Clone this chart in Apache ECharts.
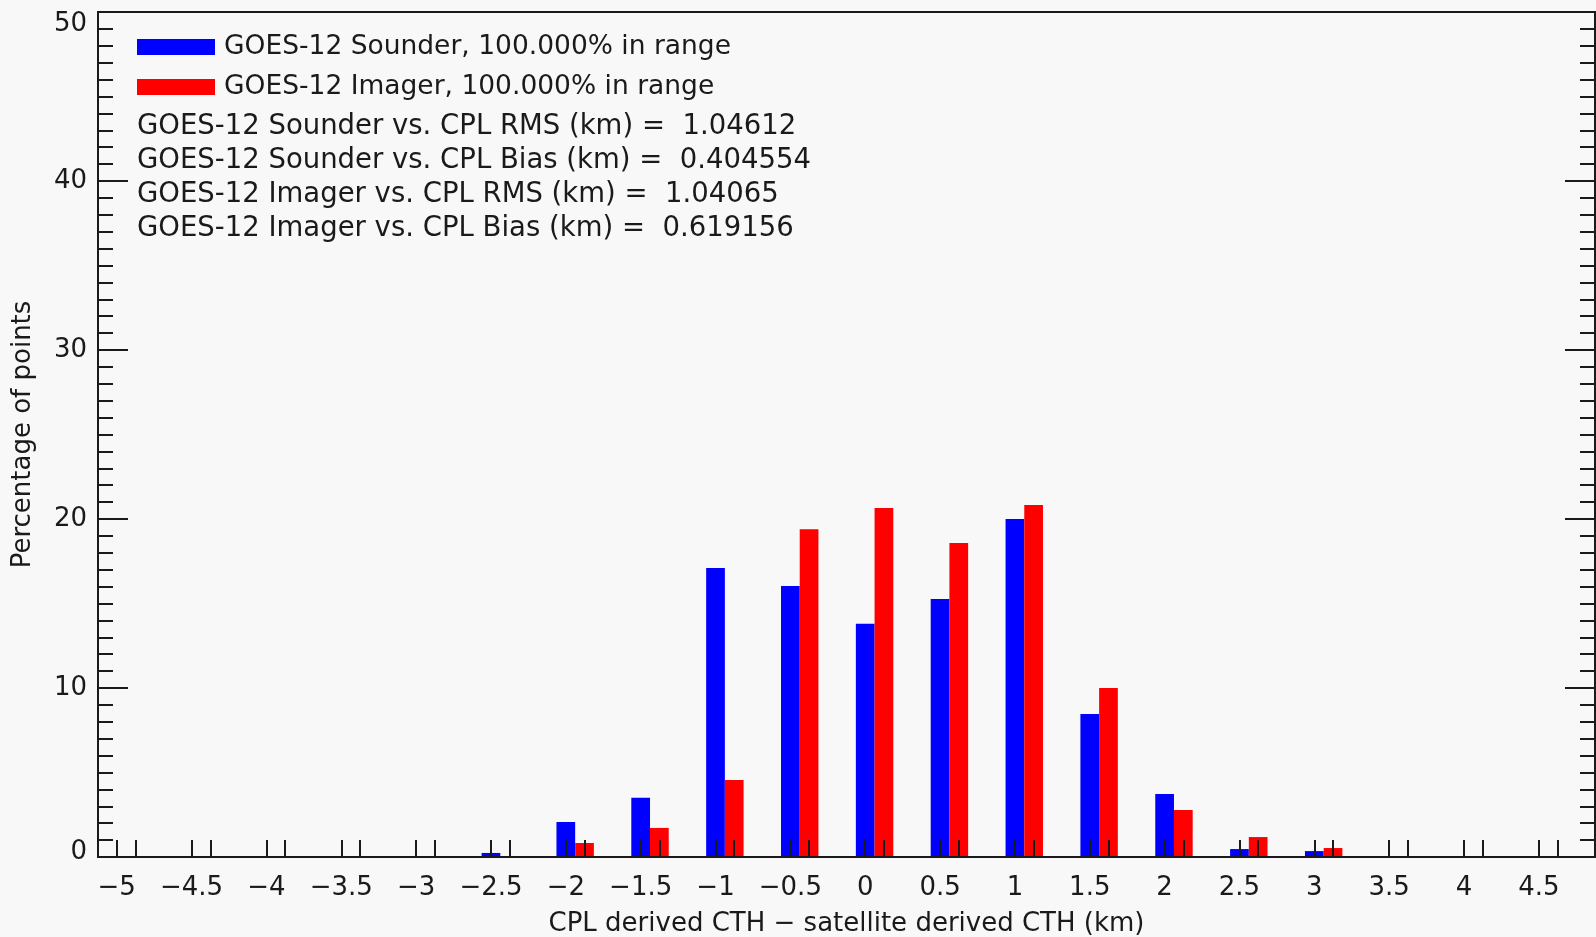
<!DOCTYPE html>
<html>
<head>
<meta charset="utf-8">
<title>CTH difference histogram</title>
<script src="https://cdn.jsdelivr.net/npm/echarts@6/dist/echarts.min.js"></script>
<style>
  html, body { margin: 0; padding: 0; background: #f8f8f8; }
  #chart { width: 1596px; height: 937px; }
</style>
</head>
<body>
<div id="chart"></div>
<script>
// Histogram bins (km), one label per bin
const binCenters = [-5, -4.5, -4, -3.5, -3, -2.5, -2, -1.5, -1, -0.5, 0, 0.5, 1, 1.5, 2, 2.5, 3, 3.5, 4, 4.5];
const xTickLabels = ['\u22125', '\u22124.5', '\u22124', '\u22123.5', '\u22123', '\u22122.5', '\u22122', '\u22121.5', '\u22121', '\u22120.5',
                     '0', '0.5', '1', '1.5', '2', '2.5', '3', '3.5', '4', '4.5'];

// Percentage of points per bin
const sounderPct = [0, 0, 0, 0, 0, 0.24, 2.07, 3.5, 17.1, 16.04, 13.8, 15.27, 20.0, 8.46, 3.73, 0.47, 0.35, 0, 0, 0];
const imagerPct  = [0, 0, 0, 0, 0, 0,    0.83, 1.72, 4.56, 19.4, 20.65, 18.58, 20.83, 10.0, 2.78, 1.18, 0.53, 0, 0, 0];

const seriesNames = ['GOES-12 Sounder, 100.000% in range', 'GOES-12 Imager, 100.000% in range'];
const statLines = [
  'GOES-12 Sounder vs. CPL RMS (km) =  1.04612',
  'GOES-12 Sounder vs. CPL Bias (km) =  0.404554',
  'GOES-12 Imager vs. CPL RMS (km) =  1.04065',
  'GOES-12 Imager vs. CPL Bias (km) =  0.619156'
];
const yTickLabels = ['0', '10', '20', '30', '40', '50'];

// Each bin holds two side-by-side bars; sounder centred on the bin, imager one bar-width to the right
const barW = 0.125;
const FONT = 'DejaVu Sans';
const INK = '#1a1a1a';

function barRenderer(offset, color) {
  return function (params, api) {
    const c = api.value(0) + offset;
    const v = api.value(1);
    if (!(v > 0)) return null;
    const p0 = api.coord([c - barW / 2, 0]);
    const p1 = api.coord([c + barW / 2, v]);
    return {
      type: 'rect',
      shape: { x: p0[0], y: p1[1], width: p1[0] - p0[0], height: p0[1] - p1[1] },
      style: { fill: color }
    };
  };
}

const tickPositions = [];
binCenters.forEach(c => { tickPositions.push(c, c + barW); });

const yAxisCommon = {
  type: 'value', min: 0, max: 50, interval: 10, z: 5,
  splitLine: { show: false },
  axisLine: { show: true, onZero: false, lineStyle: { color: INK, width: 2 } },
  axisTick: { show: true, inside: true, length: 30, lineStyle: { color: INK, width: 2 } },
  minorTick: { show: true, splitNumber: 10, length: 15, lineStyle: { color: INK, width: 2 } }
};

const chart = echarts.init(document.getElementById('chart'), null, { renderer: 'canvas' });

chart.setOption({
  backgroundColor: '#f8f8f8',
  animation: false,
  textStyle: { fontFamily: FONT },
  grid: {
    left: 98, right: 1, top: 12, bottom: 80,
    containLabel: false, outerBoundsMode: 'none',
    show: true, borderColor: INK, borderWidth: 2, backgroundColor: 'transparent'
  },
  title: {
    text: statLines.join('\n'),
    left: 137, top: 110, padding: 0,
    textStyle: { fontFamily: FONT, fontSize: 27.5, fontWeight: 'normal', color: INK, lineHeight: 34 }
  },
  legend: {
    orient: 'vertical', left: 137, top: 32, padding: 0,
    icon: 'rect', itemWidth: 78, itemHeight: 16, itemGap: 10,
    selectedMode: false,
    textStyle: { fontFamily: FONT, fontSize: 26.5, color: INK, lineHeight: 30, padding: [0, 0, 0, 4] },
    data: seriesNames
  },
  xAxis: {
    type: 'value', min: -5.125, max: 4.875, z: 5,
    name: 'CPL derived CTH \u2212 satellite derived CTH (km)',
    nameLocation: 'middle', nameGap: 54,
    nameTextStyle: { fontFamily: FONT, fontSize: 26, color: INK },
    splitLine: { show: false },
    axisLine: { show: true, onZero: false, lineStyle: { color: INK, width: 2 } },
    axisTick: { show: true, inside: true, length: 17, customValues: tickPositions, lineStyle: { color: INK, width: 2 } },
    axisLabel: {
      show: true, margin: 18, customValues: binCenters,
      fontFamily: FONT, fontSize: 26, color: INK,
      formatter: v => { const i = binCenters.indexOf(v); return i >= 0 ? xTickLabels[i] : ''; }
    }
  },
  yAxis: [Object.assign({}, yAxisCommon, {
    position: 'left',
    name: 'Percentage of points', nameLocation: 'middle', nameGap: 62,
    nameTextStyle: { fontFamily: FONT, fontSize: 26, color: INK },
    axisLabel: {
      margin: 11, fontFamily: FONT, fontSize: 26, color: INK,
      formatter: v => {
        const s = yTickLabels[Math.round(v / 10)];
        if (v === 0) return '{lo|' + s + '}';
        if (v === 50) return '{hi|' + s + '}';
        return s;
      },
      rich: {
        lo: { fontFamily: FONT, fontSize: 26, color: INK, padding: [0, 0, 10, 0] },
        hi: { fontFamily: FONT, fontSize: 26, color: INK, padding: [24, 0, 0, 0] }
      }
    }
  }), Object.assign({}, yAxisCommon, {
    position: 'right',
    axisLabel: { show: false }
  })],
  series: [{
    name: seriesNames[0], type: 'custom', xAxisIndex: 0, yAxisIndex: 0,
    itemStyle: { color: '#0000ff' },
    renderItem: barRenderer(0, '#0000ff'),
    data: binCenters.map((c, i) => [c, sounderPct[i]])
  }, {
    name: seriesNames[1], type: 'custom', xAxisIndex: 0, yAxisIndex: 0,
    itemStyle: { color: '#ff0000' },
    renderItem: barRenderer(barW, '#ff0000'),
    data: binCenters.map((c, i) => [c, imagerPct[i]])
  }]
});
</script>
</body>
</html>
